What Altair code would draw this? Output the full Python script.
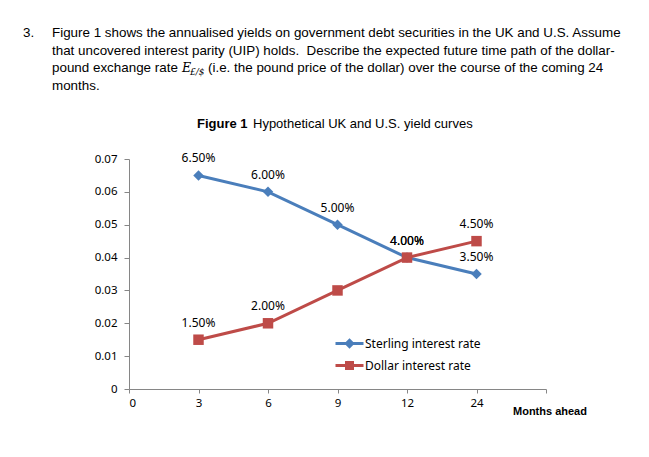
import json
import altair as alt
import pandas as pd

# Maturities (months ahead) and annualised yields
months = ["3", "6", "9", "12", "24"]
axis_labels = ["0", "3", "6", "9", "12", "24"]
sterling = [0.065, 0.060, 0.050, 0.040, 0.035]
dollar = [0.015, 0.020, 0.030, 0.040, 0.045]
sterling_labelled = [True, True, True, True, True]
dollar_labelled = [True, True, False, True, True]
y_ticks = [0, 0.01, 0.02, 0.03, 0.04, 0.05, 0.06, 0.07]

series_names = ["Sterling interest rate", "Dollar interest rate"]
colors = ["#4A7EBB", "#BE4B48"]
markers = ["diamond", "square"]

question = [
    "Figure 1 shows the annualised yields on government debt securities in the UK and U.S. Assume",
    "that uncovered interest parity (UIP) holds.\u00a0 Describe the expected future time path of the dollar-",
    "pound exchange rate",
    "(i.e. the pound price of the dollar) over the course of the coming 24",
    "months.",
]

rows = []
for i, m in enumerate(months):
    rows.append(dict(pos=i + 1, month=m, series=series_names[0],
                     rate=sterling[i], show=sterling_labelled[i]))
    rows.append(dict(pos=i + 1, month=m, series=series_names[1],
                     rate=dollar[i], show=dollar_labelled[i]))
df = pd.DataFrame(rows)

x_enc = alt.X(
    "pos:Q",
    scale=alt.Scale(domain=[0, len(axis_labels)], nice=False, zero=False),
    axis=alt.Axis(
        values=list(range(len(axis_labels) + 1)), tickCount=20,
        labelExpr=f"datum.value < {len(axis_labels)} ? {json.dumps(axis_labels)}[datum.value] : ''",
        title=None, grid=False, tickSize=4, labelPadding=4, labelOverlap=False,
    ),
)
y_enc = alt.Y(
    "rate:Q",
    scale=alt.Scale(domain=[0, 0.07], nice=False),
    axis=alt.Axis(
        values=y_ticks, tickCount=20,
        labelExpr="datum.value == 0 ? '0' : format(datum.value, '.2f')",
        title=None, grid=False, tickSize=5, labelPadding=7, labelOverlap=False,
    ),
)


def series_layers(name, color, marker):
    base = alt.Chart(df).transform_filter(alt.datum.series == name)
    line = base.mark_line(strokeWidth=3, color=color).encode(x=x_enc, y=y_enc, order="pos:Q")
    pts = base.mark_point(shape=marker, filled=True, size=110, opacity=1, color=color).encode(
        x=x_enc, y=y_enc
    )
    return line, pts


s_line, s_pts = series_layers(series_names[0], colors[0], markers[0])
d_line, d_pts = series_layers(series_names[1], colors[1], markers[1])

value_labels = alt.Chart(df).transform_filter(alt.datum.show).mark_text(
    dy=-17, font="Noto Sans", fontSize=12, color="black", baseline="middle"
).encode(
    x=x_enc, y=y_enc,
    text=alt.Text("rate:Q", format=".2%"),
)

# Legend entries: a line segment with the series marker on it.
# The legend layer's own points sit left of the axis and are clipped away.
diamond_path = "M-2.8,0L2.8,0M0,-0.62L0.62,0L0,0.62L-0.62,0Z"
square_path = "M-2.8,0L2.8,0M-0.6,-0.6L0.6,-0.6L0.6,0.6L-0.6,0.6Z"
leg = alt.Legend(
    title=None, orient="none", legendX=214, legendY=178,
    labelFont="Noto Sans", labelFontSize=12, labelColor="black",
    symbolSize=100, symbolStrokeWidth=3, rowPadding=3, labelOffset=9,
)
legend_layer = alt.Chart(df).transform_calculate(pos="-5").mark_point(
    filled=True, opacity=1, strokeWidth=3, clip=True
).encode(
    x=x_enc, y=y_enc,
    fill=alt.Fill("series:N", scale=alt.Scale(domain=series_names, range=colors), legend=leg),
    stroke=alt.Stroke("series:N", scale=alt.Scale(domain=series_names, range=colors), legend=leg),
    shape=alt.Shape("series:N", scale=alt.Scale(domain=series_names, range=[diamond_path, square_path]), legend=leg),
)

OX, OY = 129, 159  # plot origin on the page


def note(text, x, y, font="Liberation Sans", size=13, **kw):
    return alt.Chart(pd.DataFrame({"t": [text]})).mark_text(
        align="left", baseline="alphabetic", font=font, fontSize=size, color="black", **kw
    ).encode(x=alt.value(x - OX), y=alt.value(y - OY), text="t:N")


QS = 13.4
texts = [
    note("3.", 23, 37, size=QS),
    note(question[0], 52, 37, size=QS),
    note(question[1], 52, 55, size=QS),
    note(question[2], 52, 72, size=QS),
    note("E", 182, 72, font="DejaVu Serif", size=12.5, fontStyle="italic"),
    note("£/$", 190, 75, font="DejaVu Serif", size=9, fontStyle="italic"),
    note(question[3], 208, 72, size=QS),
    note(question[4], 52, 90, size=QS),
    note("Figure 1", 197, 128, fontWeight="bold"),
    note("Hypothetical UK and U.S. yield curves", 253, 128),
    note("Months ahead", 513, 415, size=11, fontWeight="bold"),
]

chart = alt.layer(s_line, d_line, s_pts, d_pts, value_labels, legend_layer, *texts).properties(
    width=417, height=230,
    padding={"left": OX, "top": OY, "right": 649 - OX - 417, "bottom": 457 - OY - 230},
    autosize=alt.AutoSizeParams(type="none"),
    background="white",
).configure_view(stroke=None).configure_axis(
    domainColor="#868686", tickColor="#868686",
    labelFont="Noto Sans", labelFontSize=11.5, labelColor="black",
)

chart.save("out.html", embed_options={"renderer": "svg", "actions": False})
